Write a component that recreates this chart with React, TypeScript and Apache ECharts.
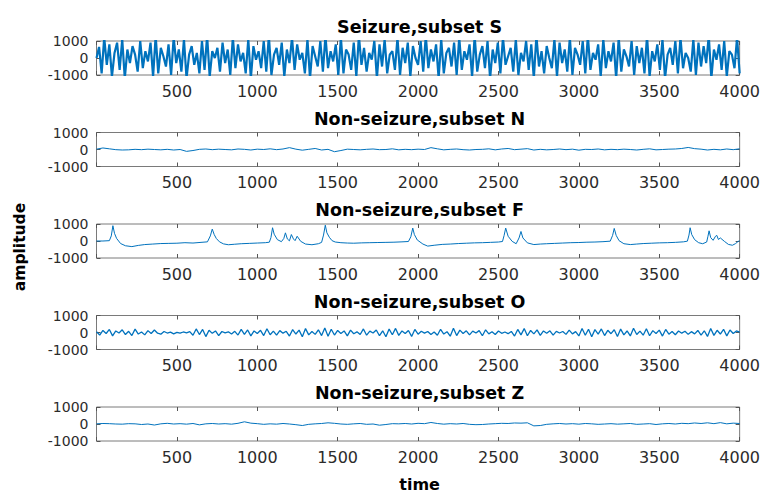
import React, { useEffect, useRef } from "react";
import * as echarts from "echarts";

// ---- EEG segments (amplitude in µV, time in samples) ----

const panelTitles = [
  "Seizure,subset S",
  "Non-seizure,subset N",
  "Non-seizure,subset F",
  "Non-seizure,subset O",
  "Non-seizure,subset Z",
];

const xTickLabels = ["500", "1000", "1500", "2000", "2500", "3000", "3500", "4000"];
const yTickLabels = ["-1000", "0", "1000"];

// subset S, one reading every 16 samples
const stepS = 16;
const subsetS = [
  0, 650, -900, 1200, -400, 800, -1100, 300, 900, -700,
  1100, -1200, 500, -300, 700, 200, -800, 1000, -600, 400,
  -200, 900, -1100, 1300, -900, 600, 100, -500, 800, -1000,
  1200, -300, 500, -800, 1100, -1200, 200, 700, -400, 300,
  -900, 1000, -700, 1300, -1100, 400, 0, 600, -800, 900,
  -300, 500, -1000, 1200, -600, 800, -200, 300, -900, 1100,
  -1200, 700, -100, 400, -600, 1000, -800, 1300, -1000, 200,
  600, -400, 900, -1100, 500, -300, 1200, -700, 800, -100,
  300, -900, 1100, -1200, 700, 100, -500, 1000, -800, 1300,
  -600, 400, -200, 800, -1000, 1200, -900, 500, 200, -700,
  900, -1100, 1300, -400, 600, -800, 300, -100, 1000, -1200,
  800, -500, 1100, -900, 200, 400, -700, 1200, -1000, 600,
  -300, 900, -1100, 700, 0, -400, 1000, -800, 1300, -600,
  500, -200, 800, -1200, 1100, -900, 300, 600, -500, 900,
  -1000, 1200, -700, 400, -100, 800, -1100, 1300, -800, 200,
  700, -600, 1000, -1200, 500, -300, 900, -900, 1200, -400,
  100, 600, -800, 1100, -1000, 300, -200, 1000, -700, 800,
  -1200, 1300, -500, 400, -900, 700, 0, -600, 1100, -1100,
  900, -300, 500, -800, 1200, -1000, 600, 200, -400, 1000,
  -900, 1300, -700, 300, -100, 800, -1100, 1100, -600, 400,
  -200, 900, -1200, 1200, -800, 500, 100, -500, 1000, -1000,
  700, -300, 600, -900, 1300, -1100, 400, -200, 800, -700,
  1100, -1200, 200, 600, -400, 1000, -900, 1200, -600, 300,
  0, -800, 1100, -1000, 900, -500, 700, -300, 1300, -1200,
  500, -100, 800, -700, 1000, -1100, 400, 200, -600, 1200,
  -900,
];

// subset N, one reading every 40 samples
const stepN = 40;
const subsetN = [
  20, 90, 40, -10, -30, -20, 10, -10, 20, 0,
  -20, 10, -30, 0, -110, -60, 10, 30, -10, 20,
  0, -20, 30, 10, -30, 20, 0, 40, -10, 30,
  110, 20, -40, 10, 60, -30, 10, -130, -60, 20,
  0, -20, 10, 30, -10, 0, 40, -20, 10, -10,
  20, 0, 110, 40, -20, 10, 30, -10, -30, 0,
  10, 40, -20, 30, 60, -10, 20, 50, -30, 10,
  -20, 0, 30, -10, 20, -40, 10, 0, 30, -20,
  10, -10, 20, 0, -30, 10, 40, -20, 0, 20,
  30, 60, 120, 50, 20, -30, 10, -20, 30, -10,
  40,
];

// subset F, readings at irregular times so the spikes keep their shape
const timeF = [
  0, 40, 80, 92, 102, 112, 125, 150, 180, 220,
  260, 300, 350, 400, 450, 500, 550, 600, 650, 690,
  708, 720, 732, 745, 765, 790, 820, 860, 900, 950,
  1000, 1050, 1075, 1085, 1095, 1105, 1125, 1150, 1165, 1175,
  1187, 1200, 1212, 1225, 1235, 1248, 1270, 1300, 1340, 1380,
  1400, 1412, 1423, 1433, 1448, 1465, 1485, 1520, 1560, 1600,
  1650, 1700, 1750, 1800, 1850, 1900, 1940, 1955, 1967, 1977,
  1995, 2030, 2060, 2100, 2150, 2200, 2250, 2300, 2350, 2400,
  2450, 2500, 2525, 2535, 2545, 2560, 2585, 2610, 2628, 2640,
  2652, 2680, 2720, 2760, 2800, 2850, 2900, 2950, 3000, 3050,
  3100, 3150, 3195, 3210, 3220, 3232, 3250, 3280, 3320, 3360,
  3400, 3450, 3500, 3550, 3600, 3650, 3675, 3685, 3692, 3702,
  3720, 3745, 3770, 3795, 3803, 3810, 3820, 3835, 3850, 3858,
  3868, 3880, 3905, 3930, 3955, 3975, 3990, 4000,
];
const valueF = [
  0, 0, 20, 300, 900, 450, 150, -150, -280, -330,
  -260, -210, -180, -150, -140, -130, -100, -120, -80, -50,
  300, 700, 380, 150, -50, -170, -220, -190, -160, -140,
  -120, -100, -70, 200, 780, 400, 80, -40, 150, 480,
  120, 10, 380, 120, 20, 280, -20, -180, -220, -160,
  -80, 350, 930, 480, 220, 20, -60, -100, -120, -130,
  -110, -100, -90, -80, -70, -50, -30, 250, 760, 380,
  60, -180, -300, -250, -200, -180, -150, -130, -110, -100,
  -80, -60, -30, 320, 760, 280, -20, -160, 180, 560,
  180, -110, -210, -180, -160, -140, -120, -100, -90, -70,
  -60, -40, -10, 330, 740, 330, 20, -160, -210, -180,
  -150, -130, -110, -100, -80, -50, -10, 350, 780, 380,
  80, -100, -160, -60, 280, 600, 200, 40, 280, 330,
  90, 180, -20, -200, -250, -150, -30, 20,
];

// subset O, one reading every 20 samples
const stepO = 20;
const subsetO = [
  40, -150, 120, -60, 180, -200, 90, -30, 160, -120,
  70, -180, 200, -90, 30, -140, 110, -60, 150, -40,
  -100, 60, -30, 20, -80, 10, -40, 30, -20, 50,
  -160, 210, -120, 180, -240, 130, -50, 90, -180, 60,
  -20, 40, -90, 70, -150, 180, -110, 150, -200, 90,
  -60, 130, -180, 220, -130, 80, -160, 110, -40, 70,
  -210, 170, -90, 140, -250, 230, -140, 60, -110, 160,
  -180, 260, -220, 190, -150, 120, -60, 90, -200, 140,
  -70, 40, -120, 210, -160, 80, -30, 150, -190, 100,
  -250, 200, -130, 240, -170, 90, -60, 120, -230, 180,
  -100, 70, -40, 60, -120, 30, -160, 190, -90, 50,
  -220, 250, -180, 140, -60, 100, -140, 80, -30, 110,
  -190, 160, -80, 40, -120, 90, -50, 30, -70, 60,
  -210, 180, -140, 230, -190, 120, -80, 150, -170, 90,
  -40, 100, -150, 70, -30, 60, -110, 140, -80, 50,
  -200, 240, -160, 190, -250, 170, -90, 210, -180, 130,
  -70, 160, -230, 200, -140, 90, -200, 250, -120, 80,
  -160, 220, -190, 110, -60, 140, -210, 180, -100, 60,
  -130, 90, -40, 70, -110, 50, -80, 120, -150, 100,
  -230, 240, -170, 130, -90, 190, -200, 150, -60, 90,
  20,
];

// subset Z, one reading every 40 samples
const stepZ = 40;
const subsetZ = [
  10, 30, 20, 0, -10, 20, 10, -30, 0, -60,
  10, 40, 0, 20, -10, 30, -50, 10, 30, 0,
  20, -10, 40, 130, 50, 20, -20, 10, -10, 30,
  0, -40, -90, -20, 10, 30, 70, 40, 0, -20,
  10, 30, -20, 0, -70, -30, 20, 10, 30, 0,
  40, 20, 90, 30, -10, 20, 0, 30, -20, -40,
  -30, 0, 20, 40, 30, 60, 50, 70, -110, -90,
  -20, 10, 30, 0, 20, -10, 30, 10, -20, 0,
  20, -10, 10, 30, -20, 0, 20, -30, 10, 30,
  0, 40, 20, 60, 30, 70, 20, 80, 10, 50,
  30,
];

// ---- layout ----
const WIDTH = 763;
const HEIGHT = 492;
const PLOT_LEFT = 96.5;
const PLOT_RIGHT = 742.7;
const PLOT_TOPS = [41, 132.5, 224, 315.5, 407];
const PLOT_HEIGHT = 34;
const LINE_COLOR = "#0072BD";
const LINE_WIDTHS = [2.2, 1, 1, 1.3, 1];
const FRAME_COLOR = "#7a7a7a";
const TEXT_COLOR = "#2b2b2b";
const FONT = '"DejaVu Sans", Arial, sans-serif';

const stepped = (values: number[], step: number) => values.map((v, i) => [i * step, v]);
const paired = (times: number[], values: number[]) => times.map((t, i) => [t, values[i]]);

const seriesData = [
  stepped(subsetS, stepS),
  stepped(subsetN, stepN),
  paired(timeF, valueF),
  stepped(subsetO, stepO),
  stepped(subsetZ, stepZ),
];

function buildOption() {
  const plotCenter = (PLOT_LEFT + PLOT_RIGHT) / 2;
  const grids = PLOT_TOPS.map((top) => ({
    left: PLOT_LEFT,
    top,
    width: PLOT_RIGHT - PLOT_LEFT,
    height: PLOT_HEIGHT,
    show: true,
    borderColor: FRAME_COLOR,
    borderWidth: 1,
    backgroundColor: "#ffffff",
    containLabel: false,
  }));

  const tick = { show: true, inside: true, length: 4, lineStyle: { color: "#555", width: 1 } };
  const hiddenLine = { show: false, onZero: false };

  const bottomX = PLOT_TOPS.map((_, i) => ({
    type: "value",
    gridIndex: i,
    position: "bottom",
    min: 0,
    max: 4000,
    interval: 500,
    axisLine: hiddenLine,
    axisTick: tick,
    splitLine: { show: false },
    axisLabel: {
      show: true,
      margin: 8,
      color: TEXT_COLOR,
      fontSize: 16,
      fontFamily: FONT,
      formatter: (v: number) => (xTickLabels.includes(String(v)) ? String(v) : ""),
    },
  }));
  const topX = PLOT_TOPS.map((_, i) => ({
    type: "value",
    gridIndex: i,
    position: "top",
    min: 0,
    max: 4000,
    interval: 500,
    axisLine: hiddenLine,
    axisTick: tick,
    splitLine: { show: false },
    axisLabel: { show: false },
  }));

  const leftY = PLOT_TOPS.map((_, i) => ({
    type: "value",
    gridIndex: i,
    position: "left",
    min: -1000,
    max: 1000,
    interval: 1000,
    axisLine: hiddenLine,
    axisTick: tick,
    splitLine: { show: false },
    axisLabel: {
      show: true,
      margin: 8,
      color: TEXT_COLOR,
      fontSize: 14,
      lineHeight: 14,
      fontFamily: FONT,
      formatter: (v: number) => (yTickLabels.includes(String(v)) ? String(v) : ""),
    },
  }));
  const rightY = PLOT_TOPS.map((_, i) => ({
    type: "value",
    gridIndex: i,
    position: "right",
    min: -1000,
    max: 1000,
    interval: 1000,
    axisLine: hiddenLine,
    axisTick: tick,
    splitLine: { show: false },
    axisLabel: { show: false },
  }));

  const series = seriesData.map((data, i) => ({
    type: "line",
    xAxisIndex: i,
    yAxisIndex: i,
    data,
    showSymbol: false,
    clip: true,
    lineStyle: { color: LINE_COLOR, width: LINE_WIDTHS[i] },
    itemStyle: { color: LINE_COLOR },
    z: 3,
  }));

  const graphic = [
    ...panelTitles.map((text, i) => ({
      type: "text",
      x: plotCenter,
      y: PLOT_TOPS[i] - 14,
      style: {
        text,
        fill: "#000",
        font: `bold 17.5px ${FONT}`,
        textAlign: "center",
        textVerticalAlign: "middle",
      },
    })),
    {
      type: "text",
      x: plotCenter,
      y: 484,
      style: {
        text: "time",
        fill: "#000",
        font: `bold 16px ${FONT}`,
        textAlign: "center",
        textVerticalAlign: "middle",
      },
    },
    {
      type: "text",
      x: 20,
      y: 247,
      rotation: Math.PI / 2,
      style: {
        text: "amplitude",
        fill: "#000",
        font: `bold 15.5px ${FONT}`,
        textAlign: "center",
        textVerticalAlign: "middle",
      },
    },
  ];

  return {
    animation: false,
    backgroundColor: "#ffffff",
    grid: grids,
    xAxis: [...bottomX, ...topX],
    yAxis: [...leftY, ...rightY],
    series,
    graphic,
  };
}

export default function App() {
  const ref = useRef<HTMLDivElement | null>(null);

  useEffect(() => {
    if (!ref.current) return;
    const chart = echarts.init(ref.current, undefined, { renderer: "svg" });
    chart.setOption(buildOption() as any);
    return () => chart.dispose();
  }, []);

  return (
    <div
      ref={ref}
      style={{ position: "fixed", left: 0, top: 0, width: WIDTH, height: HEIGHT, background: "#fff" }}
    />
  );
}
